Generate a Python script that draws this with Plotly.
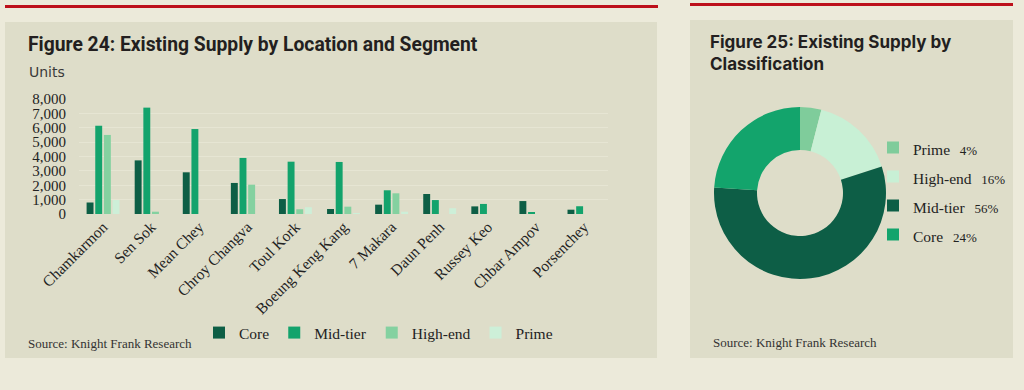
import plotly.graph_objects as go

W, H = 1024, 390

locations = ["Chamkarmon", "Sen Sok", "Mean Chey", "Chroy Changva", "Toul Kork",
             "Boeung Keng Kang", "7 Makara", "Daun Penh", "Russey Keo",
             "Chbar Ampov", "Porsenchey"]
core = [800, 3730, 2900, 2160, 1040, 350, 650, 1390, 530, 900, 300]
mid_tier = [6140, 7400, 5910, 3900, 3640, 3620, 1650, 970, 700, 140, 540]
high_end = [5500, 160, 0, 2040, 330, 510, 1440, 0, 0, 0, 0]
prime = [970, 0, 0, 0, 470, 60, 160, 400, 0, 0, 0]

y_ticks = [0, 1000, 2000, 3000, 4000, 5000, 6000, 7000, 8000]
y_tick_labels = ["0", "1,000", "2,000", "3,000", "4,000", "5,000", "6,000", "7,000", "8,000"]

class_labels = ["Prime", "High-end", "Mid-tier", "Core"]
class_share = [4, 16, 56, 24]

bar_colors = {"Core": "#0D5E45", "Mid-tier": "#13A36C", "High-end": "#84D1A0", "Prime": "#CDEFD8"}
pie_colors = ["#7FCC9B", "#C8F0D5", "#0D5E46", "#13A46C"]

PAGE = "#ECEADA"
PANEL = "#DEDDC9"
GRID = "#E6E5D3"
RED = "#BD111B"
SERIF = "Liberation Serif"
TXT = "#222222"


def px(x):
    return x / W


def py(y):
    return 1 - y / H


fig = go.Figure()
for name, vals in [("Core", core), ("Mid-tier", mid_tier), ("High-end", high_end), ("Prime", prime)]:
    fig.add_trace(go.Bar(x=locations, y=vals, name=name, marker_color=bar_colors[name],
                         marker_line_width=0, legend="legend"))

pie_names = [
    f"<span style='font-size:15.5px'>{l}</span><span style='font-size:13px'>   {v}%</span>"
    for l, v in zip(class_labels, class_share)
]
fig.add_trace(go.Pie(labels=pie_names, values=class_share, hole=0.5, sort=False,
                     direction="clockwise", rotation=0, textinfo="none",
                     marker=dict(colors=pie_colors, line=dict(width=0)),
                     domain=dict(x=[px(714), px(886)], y=[py(279), py(107)]),
                     legend="legend2"))

shapes = [
    dict(type="rect", xref="paper", yref="paper", x0=px(5), x1=px(657), y0=py(358), y1=py(22),
         fillcolor=PANEL, line_width=0, layer="below"),
    dict(type="rect", xref="paper", yref="paper", x0=px(690), x1=px(1013), y0=py(358), y1=py(20),
         fillcolor=PANEL, line_width=0, layer="below"),
    dict(type="line", xref="paper", yref="paper", x0=px(5), x1=px(658), y0=py(6.5), y1=py(6.5),
         line=dict(color=RED, width=3)),
    dict(type="line", xref="paper", yref="paper", x0=px(690), x1=px(1013), y0=py(4.5), y1=py(4.5),
         line=dict(color=RED, width=3)),
]


def ann(text, x, y, family, size, color=TXT, bold=False):
    return dict(text=f"<b>{text}</b>" if bold else text, x=px(x), y=py(y), xref="paper",
                yref="paper", xanchor="left", yanchor="middle", align="left", showarrow=False,
                font=dict(family=family, size=size, color=color))


annotations = [
    ann("Figure 24: Existing Supply by Location and Segment", 26, 44, "Roboto", 19.3, "#231F20", True),
    ann("Units", 27, 72, "DejaVu Sans", 14, "#3A3A3A"),
    ann("Source: Knight Frank Research", 26, 343, SERIF, 13, "#333333"),
    ann("Figure 25: Existing Supply by<br>Classification", 708, 53, "Inter", 17, "#231F20", True),
    ann("Source: Knight Frank Research", 711, 342, SERIF, 13, "#333333"),
]

fig.update_layout(
    width=W, height=H,
    margin=dict(l=0, r=0, t=0, b=0, autoexpand=False),
    paper_bgcolor=PAGE, plot_bgcolor=PANEL,
    barmode="group", bargap=0.28, bargroupgap=0.2,
    shapes=shapes, annotations=annotations,
    xaxis=dict(domain=[px(79), px(608)], automargin=False, tickangle=-45, showgrid=False,
               showline=False, ticks="", tickfont=dict(family=SERIF, size=15.5, color=TXT)),
    yaxis=dict(domain=[py(214), py(99)], range=[0, 8000], automargin=False,
               tickvals=y_ticks, ticktext=y_tick_labels, showgrid=True, gridcolor=GRID,
               gridwidth=1, zeroline=False, ticks="", ticklabelstandoff=12,
               tickfont=dict(family=SERIF, size=15, color=TXT)),
    legend=dict(orientation="h", x=px(199), y=py(316), xanchor="left", yanchor="top",
                bgcolor="rgba(0,0,0,0)", font=dict(family=SERIF, size=15.5, color=TXT),
                itemwidth=30, traceorder="normal"),
    legend2=dict(orientation="v", x=px(873), y=py(128), xanchor="left", yanchor="top",
                 bgcolor="rgba(0,0,0,0)", font=dict(family=SERIF, size=20, color=TXT),
                 itemwidth=30, tracegroupgap=0),
    showlegend=True,
)

fig.write_html(
    "out.html",
    config={"displayModeBar": False},
    post_script="document.body.style.margin='0';document.body.style.overflow='hidden';",
)
